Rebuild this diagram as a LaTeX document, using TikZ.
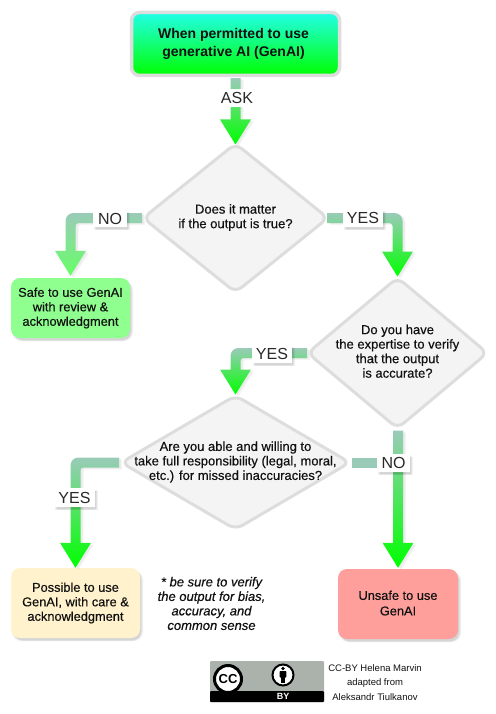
\documentclass[tikz,border=0pt]{standalone}
\usepackage{fontspec}
\setmainfont{Liberation Sans}
\newfontfamily\semib[FakeBold=0.4]{Liberation Sans}
\usetikzlibrary{shapes.geometric,calc}
\definecolor{edgetop}{HTML}{9ACBB8}
\definecolor{ink}{HTML}{111111}
\definecolor{bordergray}{HTML}{DDDDDD}
\definecolor{dfill}{HTML}{F4F4F4}
\definecolor{safefill}{HTML}{8FFF8F}
\definecolor{possfill}{HTML}{FFF2CC}
\definecolor{unsafefill}{HTML}{FF9F9B}
\definecolor{ccgray}{HTML}{AAB2AB}
\definecolor{starttop}{HTML}{22FFE8}
\tikzset{
  softshadow/.style={
    preaction={fill=black,fill opacity=.06,transform canvas={xshift=3pt,yshift=-3pt}},
    preaction={fill=black,fill opacity=.06,transform canvas={xshift=2pt,yshift=-2pt}},
    preaction={fill=black,fill opacity=.06,transform canvas={xshift=1pt,yshift=-3pt}}},
  lightshadow/.style={
    preaction={fill=black,fill opacity=.04,transform canvas={xshift=3pt,yshift=-2pt}},
    preaction={fill=black,fill opacity=.04,transform canvas={xshift=2pt,yshift=-1pt}}},
  startbox/.style={draw=bordergray,line width=3.5pt,rounded corners=8pt,top color=starttop,bottom color=green,
    minimum width=208pt,minimum height=63pt,inner sep=0pt,text=ink,font=\fontsize{14}{18}\selectfont\bfseries},
  endbox/.style={rounded corners=9pt,softshadow,inner sep=0pt,align=center,text=ink,font=\fontsize{12.8}{14.5}\selectfont\semib},
  decision/.style={diamond,draw=bordergray,fill=dfill,line width=3pt,rounded corners=8pt,inner sep=0pt,text=ink,
    font=\fontsize{13}{14.5}\selectfont\semib},
  edgelabel/.style={fill=white,inner sep=0pt,text=ink!90!white,font=\fontsize{16}{18}\selectfont},
  note/.style={align=center,text=ink,font=\fontsize{13}{14.5}\selectfont\itshape\semib},
  credit/.style={align=center,text=ink,font=\fontsize{9.5}{14.5}\selectfont},
}
\newcommand{\dtext}[2][-3pt]{\smash{\raisebox{#1}{\makebox[0pt][c]{\begin{tabular}{@{}c@{}}#2\end{tabular}}}}}
% elbow connector: horizontal out of start, then down to the tip
\newcommand{\elbow}[3]{%
  \path[lightshadow,top color=edgetop,bottom color=#3]
    let \p1=(#1),\p2=(#2),\n1={\x2>\x1?1:-1} in
    (\x1,\y1+5pt) [rounded corners=8pt] -- (\x2+\n1*5pt,\y1+5pt) [sharp corners]
    -- (\x2+\n1*5pt,\y2+25pt) -- (\x2+\n1*15.5pt,\y2+25pt) -- (\x2,\y2)
    -- (\x2-\n1*15.5pt,\y2+25pt) -- (\x2-\n1*5pt,\y2+25pt)
    [rounded corners=3pt] -- (\x2-\n1*5pt,\y1-5pt) [sharp corners] -- (\x1,\y1-5pt) -- cycle;}
\newcommand{\straight}[3]{%
  \path[lightshadow,top color=edgetop,bottom color=#3]
    let \p1=(#1),\p2=(#2) in
    (\x2-5pt,\y1) -- (\x2+5pt,\y1) -- (\x2+5pt,\y2+25pt) -- (\x2+15.5pt,\y2+25pt) -- (\x2,\y2)
    -- (\x2-15.5pt,\y2+25pt) -- (\x2-5pt,\y2+25pt) -- cycle;}
\begin{document}
\begin{tikzpicture}[x=1pt,y=-1pt]
\useasboundingbox (0,0) rectangle (495,714);
% nodes
\node[startbox] (start) at (235.5,44) {\hspace*{-2pt}\dtext[-4pt]{When permitted to use\\generative AI (GenAI)}\hspace*{2pt}};
\node[decision,minimum width=186pt,minimum height=150pt] (d1) at (235.5,218) {\dtext{Does it matter\\if the output is true?}};
\node[decision,minimum width=181pt,minimum height=152pt] (d2) at (397.5,353) {\dtext{Do you have\\the expertise to verify\\that the output\\is accurate?}};
\node[decision,minimum width=230pt,minimum height=135pt] (d3) at (235.5,462.5) {\dtext{Are you able and willing to\\take full responsibility (legal, moral,\\etc.) for missed inaccuracies?}};
\node[endbox,fill=safefill,minimum width=119pt,minimum height=60pt] (safe) at (70.5,308) {Safe to use GenAI\\with review \&\\acknowledgment};
\node[endbox,fill=possfill,minimum width=129pt,minimum height=70pt] (poss) at (75.5,603) {Possible to use\\GenAI, with care \&\\acknowledgment};
\node[endbox,fill=unsafefill,minimum width=120pt,minimum height=70pt] (unsafe) at (398,604) {\raisebox{1pt}{Unsafe to use}\\GenAI\rule[-2pt]{0pt}{2pt}};
% connector ends
\coordinate (t0) at ([yshift=-1pt]start.south);
\coordinate (t1) at ([yshift=-3pt]d1.north);
\coordinate (s1) at ([xshift=1pt]d1.west);
\coordinate (e1) at ([yshift=2pt]safe.north);
\coordinate (s2) at ([xshift=-2.5pt]d1.east);
\coordinate (e2) at ([yshift=-1pt]d2.north);
\coordinate (s3) at ([xshift=1.5pt]d2.west);
\coordinate (e3) at ([yshift=-1pt]d3.north);
\coordinate (s4) at (d2.south);
\coordinate (e4) at ([yshift=1pt]unsafe.north);
\coordinate (s5) at (d3.east);
\coordinate (e5) at (d2.south |- d3.east);
\coordinate (s6) at (d3.west);
\coordinate (e6) at (poss.north);
% connectors
\straight{t0}{t1}{green}
\elbow{s1}{e1}{green!60!white}
\elbow{s2}{e2}{green}
\elbow{s3}{e3}{green}
\straight{s4}{e4}{green}
\path[fill=edgetop] let \p1=(s5),\p2=(e5) in (\x1,\y1+5pt) rectangle (\x2-5pt,\y1-5pt);
\elbow{s6}{e6}{green}
% connector labels
\node[edgelabel,minimum width=36pt,minimum height=18pt] (lask) at (237,98) {ASK};
\node[edgelabel,softshadow,minimum width=34pt,minimum height=17pt] (lno1) at (110,218.5) {NO};
\node[edgelabel,softshadow,minimum width=40pt,minimum height=18pt] (lyes1) at (363,218) {YES};
\node[edgelabel,softshadow,minimum width=40pt,minimum height=18pt] (lyes2) at (272,353.5) {YES};
\node[edgelabel,softshadow,minimum width=33pt,minimum height=18pt] (lno2) at (393.5,463) {NO};
\node[edgelabel,softshadow,minimum width=41pt,minimum height=19pt] (lyes3) at (74.5,497.5) {YES};
% note
\node[note] (notetext) at (211.5,603.5) {* be sure to verify\\the output for bias,\\accuracy, and\\common sense};
% badge
\fill[ccgray,rounded corners=1pt] (210,661) rectangle (324,702);
\fill[black,rounded corners=1pt] (210,691) rectangle (324,702);
\node[draw=black,line width=3pt,fill=white,circle,minimum size=27pt,inner sep=0pt,font=\fontsize{13}{13}\selectfont\bfseries] (cc) at (228,679) {CC};
\node[draw=black,line width=2pt,fill=white,circle,minimum size=21pt,inner sep=0pt] (bycirc) at (283,675) {};
\fill[black] (283,668.5) circle (1.8pt);
\fill[black,rounded corners=.8pt] (279.6,671) rectangle (286.4,677.5);
\fill[black] (281,676) rectangle (285,682.5);
\node[text=white,font=\fontsize{9}{10}\selectfont\bfseries,inner sep=0pt] (by) at (283,696.5) {BY};
\node[credit] (cred) at (375,682.5) {CC-BY Helena Marvin\\adapted from\\Aleksandr Tiulkanov};
\end{tikzpicture}
\end{document}
